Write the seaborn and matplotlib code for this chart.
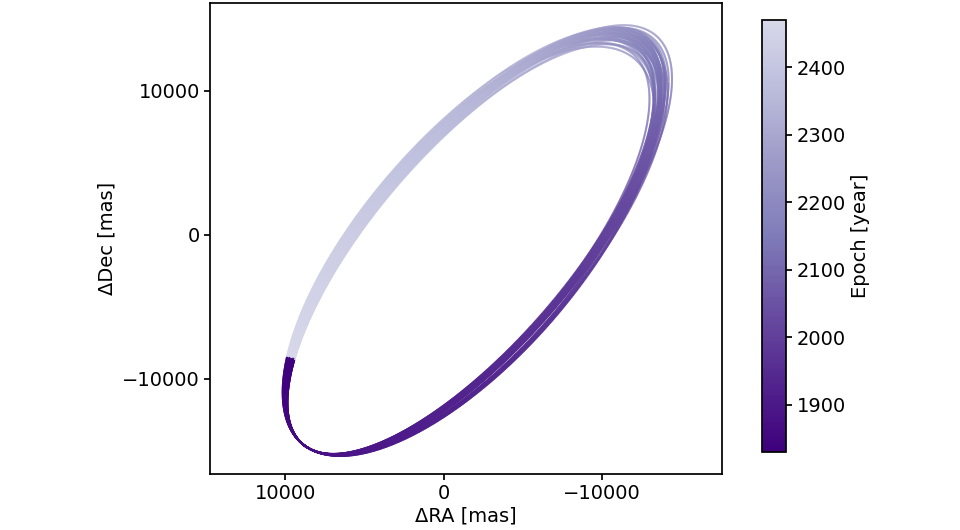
import numpy as np
import matplotlib
matplotlib.use("Agg")
import matplotlib.pyplot as plt
import seaborn as sns
from matplotlib.collections import LineCollection
from matplotlib.colors import LinearSegmentedColormap, Normalize

sns.set_theme(style="white")
plt.rcParams['font.family'] = ['DejaVu Sans']
for key in ["text.color", "axes.labelcolor", "xtick.color", "ytick.color"]:
    plt.rcParams[key] = "black"

# Orbit samples (projected ellipse parameters)
semi_major = [17000, 17100, 17150, 17200, 17250, 17300, 17320, 17350, 17380, 17400,
              17420, 17450, 17480, 17500, 17520, 17550, 17580, 17600, 17630, 17650,
              17680, 17700, 17720, 17750, 17780, 17800, 17830, 17870, 17920, 18050]
semi_minor = [7100, 6550, 6950, 6450, 6850, 7150, 6500, 6750, 7050, 6400,
              6650, 6950, 6450, 6800, 7100, 6420, 6700, 7000, 6520, 6900,
              6400, 6650, 6950, 6480, 6800, 6420, 6700, 6560, 6600, 6650]
tilt_deg = [0.3, -0.2, 0.1, 0.4, -0.3, 0.2, 0.0, -0.1, 0.3, 0.5,
            -0.4, 0.1, 0.2, -0.2, 0.0, 0.4, -0.1, 0.3, 0.1, -0.3,
            0.2, 0.0, 0.5, -0.2, 0.1, 0.3, -0.1, 0.2, 0.4, 0.5]
eccentric = [0.50] * 30
peri_x, peri_y = 8700, -14700
start_anomaly_deg = -41
orbit_period = 640
epoch_start, epoch_end = 1830, 2470

cmap = LinearSegmentedColormap.from_list(
    "pur", plt.cm.Purples_r(np.linspace(0.0, 0.74, 256)))
norm = Normalize(epoch_start, epoch_end)

fig = plt.figure(figsize=(9.6, 5.3), dpi=100)
ax = fig.add_axes([0.219, 0.106, 0.533, 0.889])
cax = fig.add_axes([0.794, 0.147, 0.025, 0.815])

t = np.linspace(epoch_start, epoch_end, 1500)
base = np.arctan2(-0.8, 0.6)
E0 = np.radians(start_anomaly_deg)
for k in range(len(semi_major)):
    e = eccentric[k]
    th = base + np.radians(tilt_deg[k])
    u = np.array([np.cos(th), np.sin(th)])
    v = np.array([u[1], -u[0]])
    cx = peri_x - semi_major[k] * u[0]
    cy = peri_y - semi_major[k] * u[1]
    M0 = E0 - e * np.sin(E0)
    M = M0 + 2 * np.pi * (t - epoch_start) / orbit_period
    E = M.copy()
    for _ in range(50):
        E = E - (E - e * np.sin(E) - M) / (1 - e * np.cos(E))
    x = cx + semi_major[k] * np.cos(E) * u[0] + semi_minor[k] * np.sin(E) * v[0]
    y = cy + semi_major[k] * np.cos(E) * u[1] + semi_minor[k] * np.sin(E) * v[1]
    pts = np.column_stack([x, y]).reshape(-1, 1, 2)
    segs = np.concatenate([pts[:-1], pts[1:]], axis=1)
    lc = LineCollection(segs, cmap=cmap, norm=norm, linewidth=1.4,
                        capstyle="butt")
    lc.set_array(t[:-1])
    ax.add_collection(lc)

ax.set_xlim(14730, -17570)
ax.set_ylim(-16600, 16110)
ax.set_xticks([10000, 0, -10000])
ax.set_yticks([10000, 0, -10000])
ax.set_xticklabels(["10000", "0", "\u221210000"])
ax.set_yticklabels(["10000", "0", "\u221210000"])
ax.tick_params(labelsize=14, length=4, direction="out", bottom=True, left=True)
ax.set_xlabel("\u0394RA [mas]", fontsize=14, labelpad=2)
ax.set_ylabel("\u0394Dec [mas]", fontsize=14)
for s in ax.spines.values():
    s.set_color("black")

sm = plt.cm.ScalarMappable(cmap=cmap, norm=norm)
cb = fig.colorbar(sm, cax=cax)
cb.set_ticks([1900, 2000, 2100, 2200, 2300, 2400])
cb.ax.tick_params(labelsize=14, length=4, right=True)
cb.set_label("Epoch [year]", fontsize=14)
cb.outline.set_edgecolor("black")

fig.savefig("out.png", dpi=100)
